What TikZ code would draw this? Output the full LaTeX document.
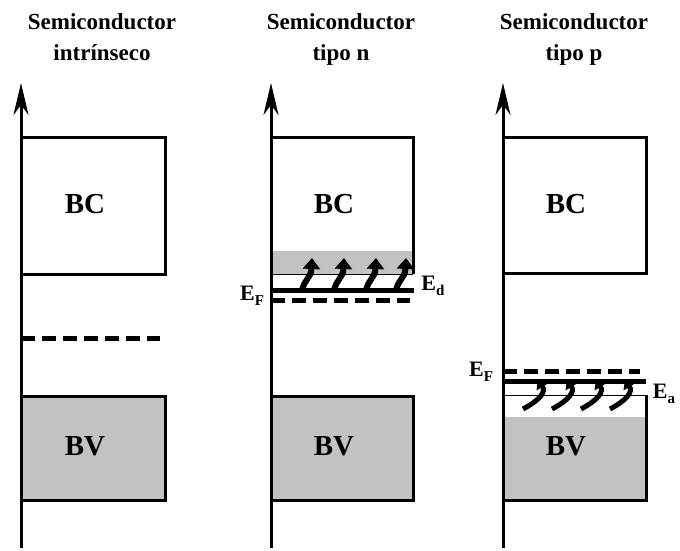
\documentclass[tikz,border=0pt]{standalone}
\usepackage{fontspec}
\setmainfont{Liberation Serif}
\usetikzlibrary{arrows.meta}
\newcommand{\elev}[1]{E\raisebox{-5pt}{\fontsize{15}{15}\selectfont #1}}
\begin{document}
\begin{tikzpicture}[x=1pt,y=-1pt,
  axisline/.style={line width=3pt,-{Stealth[length=32pt,width=15pt,inset=10pt]}},
  boxline/.style={line width=3pt},
  thinedge/.style={line width=1pt},
  shadefill/.style={fill=black!24},
  fermi/.style={line width=5pt,dash pattern=on 14pt off 7pt},
  level/.style={line width=5pt},
  curlup/.style={line width=6pt,-{Triangle[length=11pt,width=17pt]}},
  curldown/.style={line width=5pt,{Triangle[length=9pt,width=14pt]}-},
  title/.style={font=\bfseries\fontsize{23}{26}\selectfont,align=center},
  band/.style={font=\bfseries\fontsize{29}{30}\selectfont},
  elabel/.style={font=\bfseries\fontsize{22}{23}\selectfont,inner sep=0pt}]
\useasboundingbox (0,0) rectangle (680,550);
\fill[white] (0,0) rectangle (680,550);

% titles
\node[title,anchor=base] (t1a) at (102,29) {Semiconductor};
\node[title,anchor=base] (t1b) at (102,60) {intrínseco};
\node[title,anchor=base] (t2a) at (341,29) {Semiconductor};
\node[title,anchor=base] (t2b) at (341,60) {tipo n};
\node[title,anchor=base] (t3a) at (574,29) {Semiconductor};
\node[title,anchor=base] (t3b) at (574,60) {tipo p};

% ---------- panel 1: intrinsic ----------
\coordinate (a1b) at (21,548);
\coordinate (a1t) at (21,83);
\filldraw[boxline,shadefill] (21,396) rectangle (165,500);
\draw[boxline] (21,137) rectangle (165,274);
\draw[fermi] (21,338) -- (160,338);
\draw[axisline] (a1b) -- (a1t);
\node[band] (bc1) at (85,204) {BC};
\node[band] (bv1) at (85,446) {BV};

% ---------- panel 2: n-type ----------
\coordinate (a2b) at (271,548);
\coordinate (a2t) at (271,83);
\fill[shadefill] (271,251) rectangle (413,274);
\draw[thinedge] (271,274) -- (413,274);
\draw[boxline] (271,274) -- (271,137) -- (413,137) -- (413,274);
\filldraw[boxline,shadefill] (271,396) rectangle (413,500);
\draw[level] (271,290) -- (414,290);
\draw[fermi] (271,300) -- (410,300);
\foreach \x in {302,334,366,396}{
  \draw[curlup] (\x,292) .. controls (\x+1,280) and (\x+9,279) .. (\x+10,258);
}
\draw[axisline] (a2b) -- (a2t);
\node[band] (bc2) at (334,204) {BC};
\node[band] (bv2) at (334,446) {BV};
\node[elabel] (ef2) at (252,296) {\elev{F}};
\node[elabel] (ed2) at (433,286) {\elev{d}};

% ---------- panel 3: p-type ----------
\coordinate (a3b) at (503,548);
\coordinate (a3t) at (503,83);
\draw[boxline] (503,137) rectangle (646,273);
\fill[shadefill] (503,417) rectangle (646,500);
\draw[thinedge] (503,395) -- (646,395);
\draw[boxline] (646,395) -- (646,500) -- (503,500);
\draw[fermi] (503,371) -- (640,371);
\draw[level] (503,381) -- (646,381);
\foreach \x in {538,567,596,625}{
  \draw[curldown] (\x,379) .. controls (\x+8,392) and (\x+2,400) .. (\x-15,409);
}
\draw[axisline] (a3b) -- (a3t);
\node[band] (bc3) at (566,204) {BC};
\node[band] (bv3) at (566,446) {BV};
\node[elabel] (ef3) at (481,372) {\elev{F}};
\node[elabel] (ea3) at (664,394) {\elev{a}};
\end{tikzpicture}
\end{document}
